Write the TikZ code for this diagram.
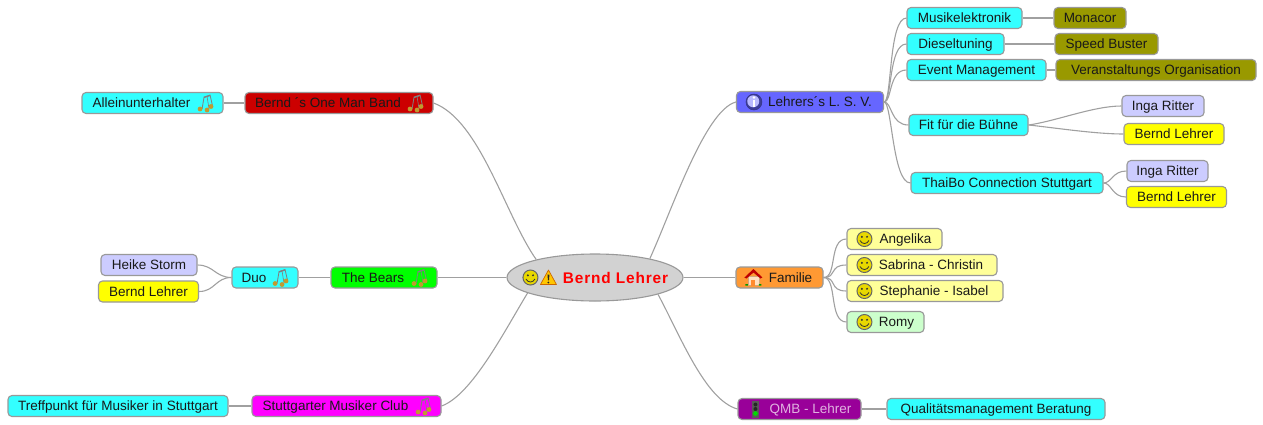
\documentclass[tikz,border=0pt]{standalone}
\usepackage{fontspec}
\setmainfont{Liberation Sans}
\usetikzlibrary{shapes.geometric}

\definecolor{cyanbox}{HTML}{33FFFF}
\definecolor{lilabox}{HTML}{CCCCFF}
\definecolor{yellowbox}{HTML}{FFFF00}
\definecolor{paleyellow}{HTML}{FFFF99}
\definecolor{palegreen}{HTML}{CCFFCC}
\definecolor{olivebox}{HTML}{999900}
\definecolor{bluebox}{HTML}{6666FF}
\definecolor{orangebox}{HTML}{FF9933}
\definecolor{purplebox}{HTML}{990099}
\definecolor{redbox}{HTML}{CC0000}
\definecolor{greenbox}{HTML}{00FF00}
\definecolor{magentabox}{HTML}{FF00FF}
\definecolor{rootgray}{HTML}{D2D2D2}
\definecolor{linegray}{HTML}{A0A0A0}
\definecolor{edgegray}{HTML}{999999}
\definecolor{smileyyellow}{HTML}{E8D800}
\definecolor{notegold}{HTML}{C09A30}

\tikzset{
    topic/.style={draw=edgegray, line width=1.1pt, rounded corners=4pt, inner sep=0pt, minimum height=21pt,
        text height=11pt, text depth=1.5pt, text=black!90, font=\fontsize{13.5}{15}\selectfont},
    link/.style={draw=linegray, line width=1.1pt},
    smiley/.pic={
        \fill[smileyyellow, draw=black!60, line width=1pt] (0,0) circle (7.5pt);
        \fill[black!80] (-2.6,-2.2) circle (1.1pt) (2.6,-2.2) circle (1.1pt);
        \draw[black!80, line width=0.8pt] (-4.5,1.5) .. controls (-2.5,5.5) and (2.5,5.5) .. (4.5,1.5);
    },
    warnsign/.pic={
        \fill[orange!45!yellow, draw=orange!80!black, line width=0.7pt, line join=round] (0,-7.5) -- (8,7) -- (-8,7) -- cycle;
        \fill[black!85] (-1,-3) -- (1,-3) -- (0.5,2.8) -- (-0.5,2.8) -- cycle;
        \fill[black!85] (0,5) circle (1pt);
    },
    infosign/.pic={
        \fill[bluebox!60!black, draw=bluebox!50!black, line width=0.5pt] (0,0) circle (8pt);
        \fill[bluebox!45!white] (-0.7,-0.7) circle (6pt);
        \fill[white] (0,-4.5) circle (1.3pt);
        \fill[white] (-1.2,-2) rectangle (1.2,5);
    },
    housesign/.pic={
        \fill[orange!25!white, draw=brown!70, line width=0.4pt] (-5.5,-1) rectangle (5.5,8);
        \fill[orangebox!90!red] (-2,2) rectangle (2,8);
        \fill[green!60!black] (-8,6.5) rectangle (-5.5,8) (5.5,6.5) rectangle (8,8);
        \fill[red!75!black] (0,-8.5) -- (9,0) -- (7,1) -- (0,-5) -- (-7,1) -- (-9,0) -- cycle;
    },
    lightsign/.pic={
        \fill[black!65] (-3.5,-8.5) rectangle (3.5,8.5);
        \fill[black!85] (0,-4.5) circle (2pt) (0,0) circle (2pt);
        \fill[green!85!black] (0,4.5) circle (2.4pt);
    },
    notesign/.pic={
        \draw[black!50, line width=0.8pt] (-4.5,6) -- (-2.5,-6) -- (3.5,-8) -- (6,3);
        \draw[black!50, line width=1.2pt] (-2.5,-5.5) -- (3.5,-7.5);
        \draw[black!50, line width=0.6pt] (0.5,-6.5) -- (2.5,6);
        \fill[notegold] (-6.5,6) circle (2.4pt) (0.5,7) circle (2.4pt) (4.5,3.5) circle (2.4pt);
    }
}

\begin{document}
\begin{tikzpicture}[x=1pt, y=-1pt]

    \useasboundingbox (0,0) rectangle (1263,424);

    \node[ellipse, draw=edgegray, line width=1.1pt, fill=rootgray, inner sep=0pt, minimum width=176pt, minimum height=47pt,
        text=red, font=\fontsize{15.4}{18}\selectfont\bfseries\addfontfeature{LetterSpace=5.5}] (root) at (595,277.5) {\makebox[0pt]{\hspace*{41pt}Bernd Lehrer}};

    % first level
    \node[topic, fill=bluebox, minimum width=147pt] (lsv) at (810,102) {\hspace*{20pt}Lehrers´s L. S. V.};
    \node[topic, fill=orangebox, minimum width=87pt] (familie) at (779.5,277.5) {\hspace*{22pt}Familie};
    \node[topic, fill=purplebox, minimum width=123pt, text=white!70!purplebox] (qmb) at (799.5,409) {\hspace*{22pt}QMB - Lehrer};
    \node[topic, fill=redbox, minimum width=188pt] (oneman) at (339,103) {Bernd ´s One Man Band\hspace*{22pt}};
    \node[topic, fill=greenbox, minimum width=106pt] (bears) at (384,277.5) {The Bears\hspace*{22pt}};
    \node[topic, fill=magentabox, minimum width=189pt] (club) at (346.5,406) {Stuttgarter Musiker Club\hspace*{22pt}};

    % cyan topics
    \foreach \n/\x/\y/\w/\t in {musik/964.5/18/115/Musikelektronik,
        diesel/955.5/44/97/Dieseltuning,
        event/976.5/70/139/Event Management,
        fit/968.5/125/119/Fit für die Bühne,
        thaibo/1007/183/192/ThaiBo Connection Stuttgart,
        quali/996/409/218/Qualitätsmanagement Beratung,
        treff/118/406/220/Treffpunkt für Musiker in Stuttgart}{
    \node[topic, fill=cyanbox, minimum width=\w pt] (\n) at (\x,\y) {\t};
}
    \node[topic, fill=cyanbox, minimum width=141pt] (allein) at (152.5,103) {Alleinunterhalter\hspace*{22pt}};
    \node[topic, fill=cyanbox, minimum width=66pt] (duo) at (265,277.5) {Duo\hspace*{22pt}};

    % leaves
    \foreach \n/\x/\y/\w/\t in {monacor/1090/18/72/Monacor,
        speed/1106.5/44/103/Speed Buster,
        veran/1156/70/200/Veranstaltungs Organisation}{
    \node[topic, fill=olivebox, minimum width=\w pt] (\n) at (\x,\y) {\t};
}
    \foreach \n/\x/\y/\w/\t in {ingaA/1163/106/82/Inga Ritter,ingaB/1167.5/171/81/Inga Ritter,heike/149/265/96/Heike Storm}{
    \node[topic, fill=lilabox, minimum width=\w pt] (\n) at (\x,\y) {\t};
}
    \foreach \n/\x/\y in {berndA/1174/134,berndB/1176.5/197,berndC/148.5/291.5}{
    \node[topic, fill=yellowbox, minimum width=100pt] (\n) at (\x,\y) {Bernd Lehrer};
}

    % family
    \node[topic, fill=paleyellow, minimum width=95pt] (angelika) at (894.5,239) {\hspace*{22pt}Angelika};
    \node[topic, fill=paleyellow, minimum width=150pt] (sabrina) at (922,265) {\hspace*{18pt}Sabrina - Christin};
    \node[topic, fill=paleyellow, minimum width=156pt] (stephanie) at (925,291) {\hspace*{18pt}Stephanie - Isabel};
    \node[topic, fill=palegreen, minimum width=77pt] (romy) at (885.5,322) {\hspace*{22pt}Romy};

    % icons
    \pic at ([xshift=24pt]root.west) {smiley};
    \pic at ([xshift=42pt]root.west) {warnsign};
    \pic at ([xshift=18pt]lsv.west) {infosign};
    \pic at ([xshift=18pt]familie.west) {housesign};
    \pic at ([xshift=18pt]qmb.west) {lightsign};
    \foreach \n in {angelika,sabrina,stephanie,romy}{
    \pic at ([xshift=18pt]\n.west) {smiley};
}
    \foreach \n in {allein,oneman,duo,bears,club}{
    \pic at ([xshift=-17pt]\n.east) {notesign};
}

    % connectors
    \draw[link] (root.19) .. controls (672,210) and (705,110) .. (lsv.west);
    \draw[link] (root.east) -- (familie.west);
    \draw[link] (root.-15) .. controls (680,335) and (705,400) .. (qmb.west);
    \draw[link] (root.163) .. controls (505,215) and (480,120) .. (oneman.east);
    \draw[link] (root.west) -- (bears.east);
    \draw[link] (root.-167) .. controls (505,330) and (472,395) .. (club.east);

    \foreach \n in {musik,diesel,event,fit,thaibo}{
    \draw[link] (lsv.east) .. controls +(8,0) and +(-18,0) .. (\n.west);
}
    \foreach \n in {angelika,sabrina,stephanie,romy}{
    \draw[link] (familie.east) .. controls +(14,0) and +(-18,0) .. (\n.west);
}
    \draw[link] (fit.east) .. controls +(28,-4) and +(-28,0) .. (ingaA.west);
    \draw[link] (fit.east) .. controls +(28,3) and +(-28,0) .. (berndA.west);
    \draw[link] (thaibo.east) .. controls +(8,0) and +(-14,0) .. (ingaB.west);
    \draw[link] (thaibo.east) .. controls +(8,0) and +(-14,0) .. (berndB.west);
    \draw[link] (duo.west) .. controls +(-16,0) and +(16,0) .. (heike.east);
    \draw[link] (duo.west) .. controls +(-16,0) and +(16,0) .. (berndC.east);

    \foreach \a/\b in {musik/monacor,diesel/speed,event/veran,qmb/quali,allein/oneman,duo/bears,treff/club}{
    \draw[link] (\a.east) -- (\b.west);
}

\end{tikzpicture}
\end{document}
